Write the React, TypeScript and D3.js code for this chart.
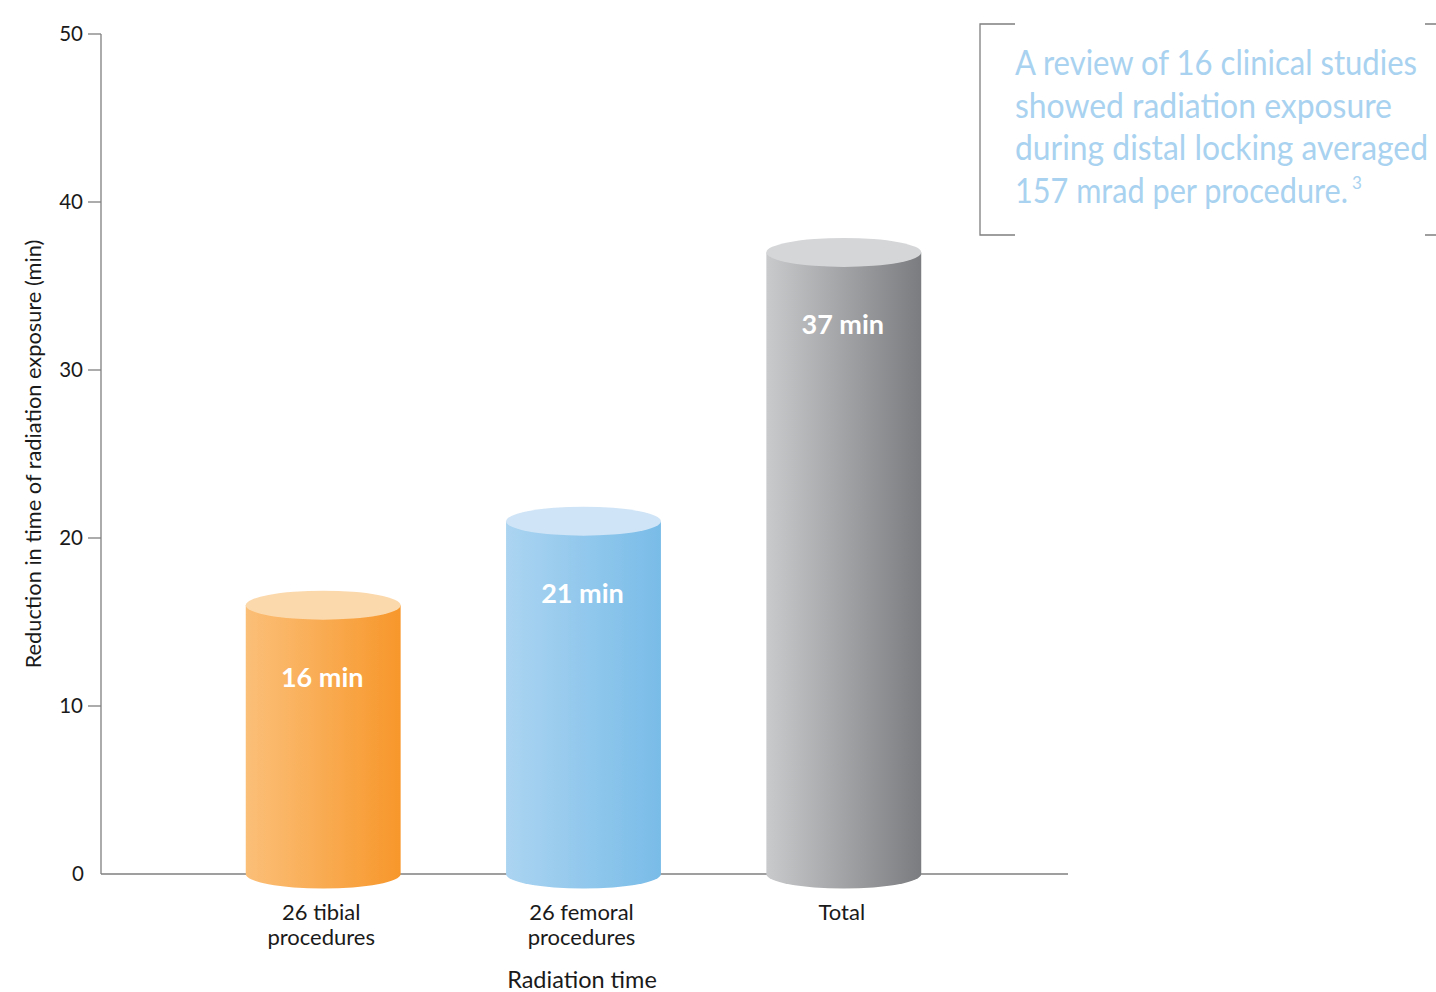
import React, { useLayoutEffect, useRef, useState } from "react";
import * as d3 from "d3";

const categories = ["26 tibial\nprocedures", "26 femoral\nprocedures", "Total"];
const values = [16, 21, 37];
const valueLabels = ["16 min", "21 min", "37 min"];
const yTicks = [0, 10, 20, 30, 40, 50];
const noteLines = [
  "A review of 16 clinical studies",
  "showed radiation exposure",
  "during distal locking averaged",
  "157 mrad per procedure.",
];
const noteWidths = [402, 377, 413, 333];
const palettes = [
  { left: "#fbbf78", right: "#f7972b", top: "#fcd9ad" },
  { left: "#abd4f1", right: "#79bce8", top: "#cfe4f6" },
  { left: "#c9cacc", right: "#7b7c7f", top: "#d5d6d8" },
];

export default function App() {
  const W = 1436, H = 992;
  const x0 = 101, x1 = 1068, yBase = 874, yTop = 34;
  const y = d3.scaleLinear().domain([0, 50]).range([yBase, yTop]);
  const x = d3
    .scaleBand<number>()
    .domain(d3.range(categories.length))
    .range([x0, x1])
    .paddingInner(0.405)
    .paddingOuter(0.56)
    .align(0.5);
  const bw = x.bandwidth();
  const rx = bw / 2;
  const ry = 14.5;
  const font = "Lato, 'Noto Sans', sans-serif";

  const noteRefs = useRef<(SVGTextElement | null)[]>([]);
  const [scales, setScales] = useState<number[]>(noteLines.map(() => 0.9));
  useLayoutEffect(() => {
    const s = noteLines.map((_, i) => {
      const el = noteRefs.current[i];
      if (!el) return 0.9;
      const w = el.getComputedTextLength();
      return w > 0 ? noteWidths[i] / w : 0.9;
    });
    setScales(s);
  }, []);

  return (
    <svg width={W} height={H} style={{ position: "absolute", left: 0, top: 0 }}>
      <defs>
        {palettes.map((p, i) => (
          <linearGradient key={i} id={`g${i}`} x1="0" x2="1" y1="0" y2="0">
            <stop offset="0%" stopColor={p.left} />
            <stop offset="100%" stopColor={p.right} />
          </linearGradient>
        ))}
      </defs>
      {/* axes */}
      <line x1={x0} x2={x0} y1={yTop} y2={yBase} stroke="#7f7f7f" strokeWidth={1.3} />
      <line x1={x0} x2={x1} y1={yBase} y2={yBase} stroke="#7f7f7f" strokeWidth={1.3} />
      {yTicks.map((t) => (
        <g key={t}>
          {t !== 0 && (
            <line x1={x0 - 13} x2={x0} y1={y(t)} y2={y(t)} stroke="#7f7f7f" strokeWidth={1.3} />
          )}
          <text
            x={t === 0 ? 84 : 83}
            y={y(t)}
            dy="0.35em"
            textAnchor="end"
            fontFamily={font}
            fontSize={20.5}
            fill="#1a1a1a"
          >
            {t}
          </text>
        </g>
      ))}
      <text
        transform={`translate(41,454) rotate(-90)`}
        textAnchor="middle"
        fontFamily={font}
        fontSize={21.8}
        fill="#1a1a1a"
      >
        Reduction in time of radiation exposure (min)
      </text>
      {/* bars */}
      {values.map((v, i) => {
        const bx = x(i)! - 1;
        const cx = bx + rx;
        const yt = y(v);
        const d = `M${bx},${yt} L${bx},${yBase} A${rx},${ry} 0 0 0 ${bx + bw},${yBase} L${bx + bw},${yt} Z`;
        return (
          <g key={i}>
            <path d={d} fill={`url(#g${i})`} />
            <ellipse cx={cx} cy={yt} rx={rx} ry={ry} fill={palettes[i].top} />
            <text
              x={cx - 1}
              y={yt + 82}
              textAnchor="middle"
              fontFamily={font}
              fontWeight={700}
              fontSize={27}
              fill="#ffffff"
            >
              {valueLabels[i]}
            </text>
            {categories[i].split("\n").map((ln, j) => (
              <text
                key={j}
                x={cx - 2}
                y={920 + j * 25}
                textAnchor="middle"
                fontFamily={font}
                fontSize={22}
                fill="#1a1a1a"
              >
                {ln}
              </text>
            ))}
          </g>
        );
      })}
      <text x={582} y={988} textAnchor="middle" fontFamily={font} fontSize={23.5} fill="#1a1a1a">
        Radiation time
      </text>
      {/* annotation bracket */}
      <path d="M1015,24 L980,24 L980,235 L1015,235" fill="none" stroke="#7f7f7f" strokeWidth={1.3} />
      <path d="M1425,24 L1436,24 M1425,235 L1436,235" fill="none" stroke="#7f7f7f" strokeWidth={1.3} />
      {noteLines.map((ln, i) => (
        <g key={i}>
          <g transform={`translate(1015,${75 + i * 42.5}) scale(${scales[i]},1)`}>
            <text
              ref={(el) => {
                noteRefs.current[i] = el;
              }}
              x={0}
              y={0}
              fontFamily={font}
              fontSize={35}
              fill="#a8d2f0"
            >
              {ln}
            </text>
          </g>
          {i === noteLines.length - 1 && (
            <text x={1015 + noteWidths[i] + 4} y={75 + i * 42.5 - 14} fontFamily={font} fontSize={17} fill="#a8d2f0">
              3
            </text>
          )}
        </g>
      ))}
    </svg>
  );
}
